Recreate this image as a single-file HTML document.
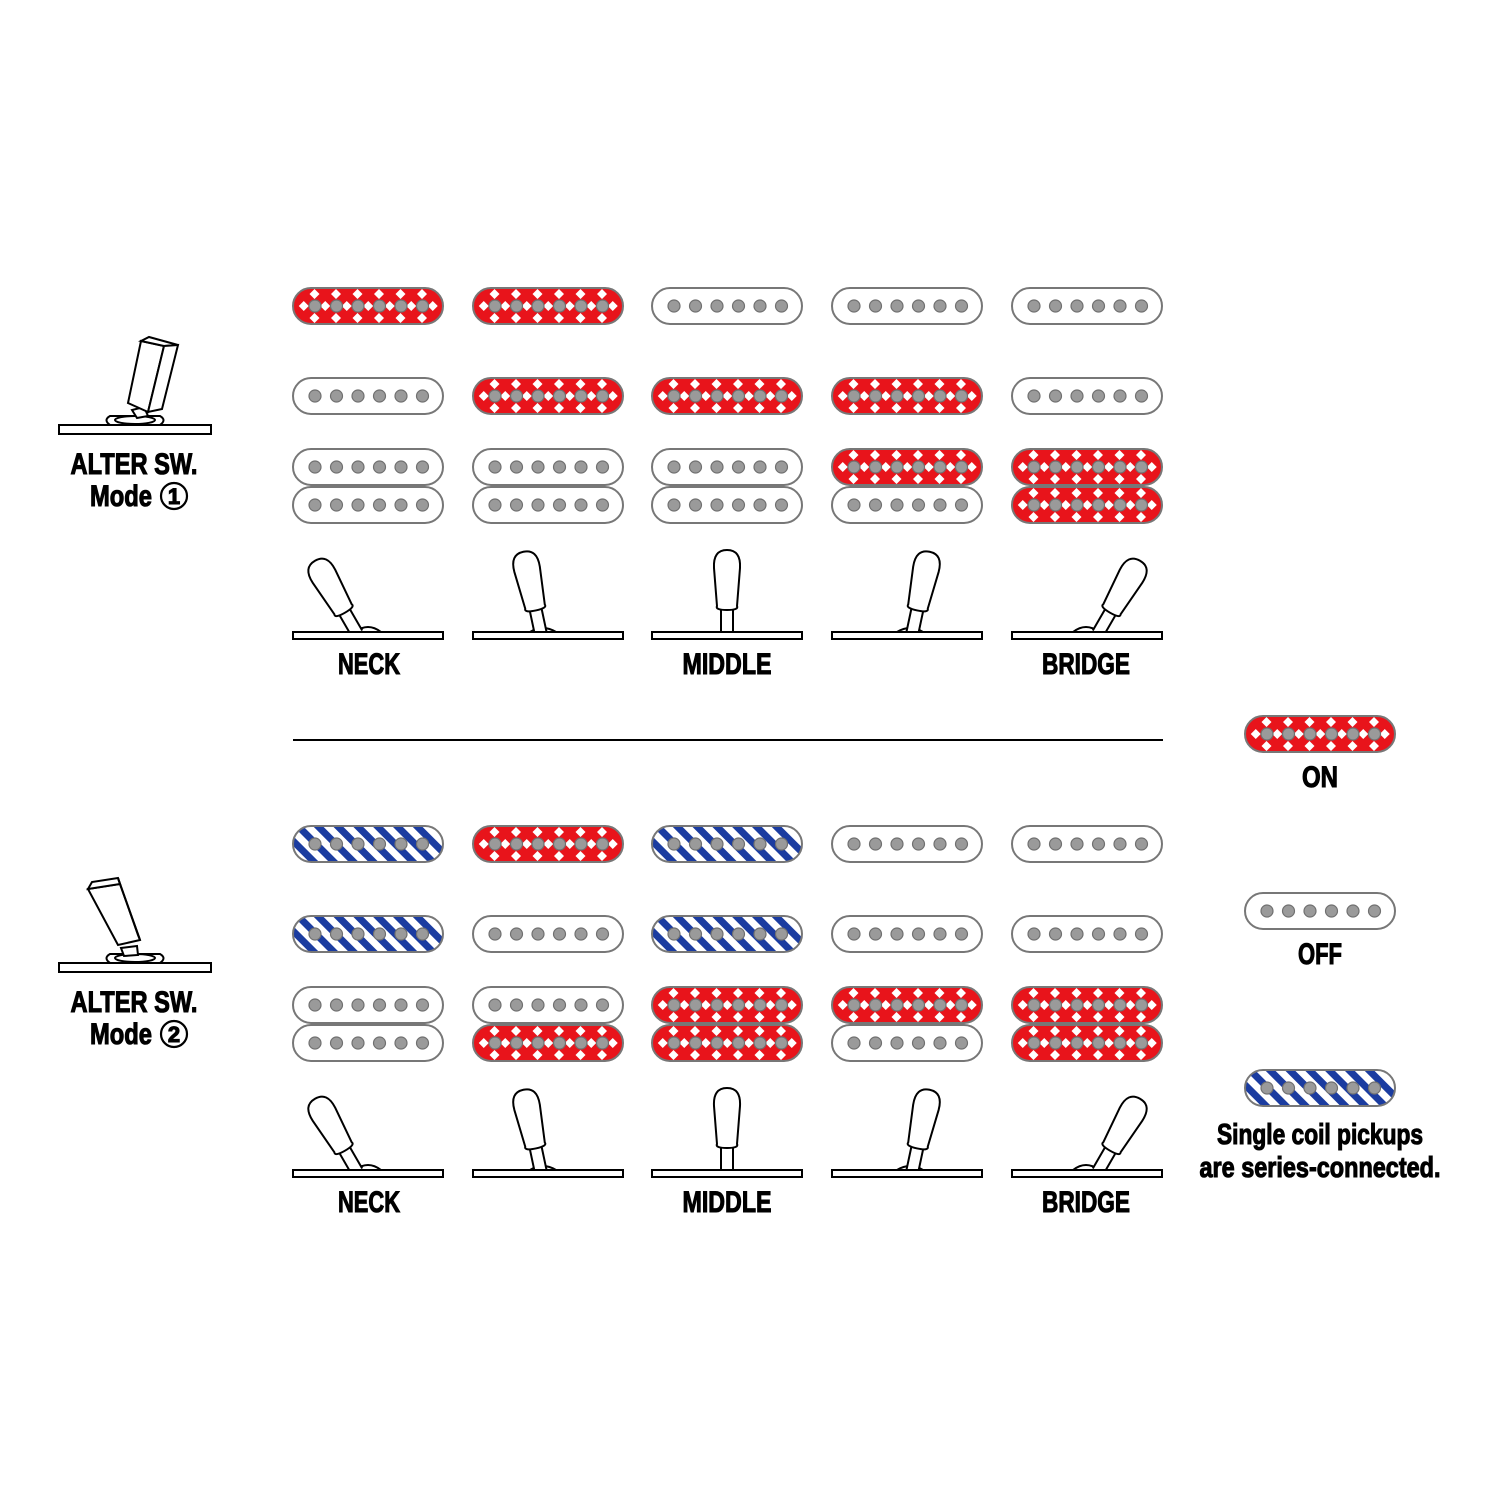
<!DOCTYPE html>
<html><head><meta charset="utf-8"><style>
html,body{margin:0;padding:0;background:#fff}
svg{display:block}
text{font-family:"Liberation Sans",sans-serif;font-weight:bold;fill:#000;text-anchor:middle;stroke:#000;stroke-width:1.1}
</style></head><body>
<svg width="1500" height="1500" viewBox="0 0 1500 1500" xmlns="http://www.w3.org/2000/svg">
<defs>
<pattern id="pr" patternUnits="userSpaceOnUse" width="21.5" height="24" x="0" y="0">
<rect width="21.5" height="24" fill="#e8141b"/>
<path d="M0,1 L5,6 L0,11 L-5,6Z M21.5,1 L26.5,6 L21.5,11 L16.5,6Z M10.75,13 L15.75,18 L10.75,23 L5.75,18Z M0,25 L5,30 L0,35 L-5,30Z M21.5,25 L26.5,30 L21.5,35 L16.5,30Z" fill="#fff"/>
</pattern>
<pattern id="pb" patternUnits="userSpaceOnUse" width="14" height="14" patternTransform="rotate(-45)">
<rect width="14" height="14" fill="#fff"/><rect width="7" height="14" fill="#1b3ca0"/>
</pattern>
<g id="poles" fill="#9a9a9a" stroke="#707070" stroke-width="1.2">
<circle cx="22" cy="18" r="6"/><circle cx="43.5" cy="18" r="6"/><circle cx="65" cy="18" r="6"/><circle cx="86.5" cy="18" r="6"/><circle cx="108" cy="18" r="6"/><circle cx="129.5" cy="18" r="6"/>
</g>
<g id="W"><rect x="0" y="0" width="150" height="36" rx="18" fill="#fff" stroke="#777" stroke-width="2"/><use href="#poles"/></g>
<g id="R"><rect x="0" y="0" width="150" height="36" rx="18" fill="url(#pr)" stroke="#777" stroke-width="2"/><use href="#poles"/></g>
<g id="B"><rect x="0" y="0" width="150" height="36" rx="18" fill="url(#pb)" stroke="#777" stroke-width="2"/><use href="#poles"/></g>
<g id="lever" fill="#fff" stroke="#000" stroke-width="2">
<path d="M-6,4 L-6,-22 L6,-22 L6,4"/>
<path d="M-10,-24 Q-12,-20 0,-20 Q12,-20 10,-24 L13,-62 Q14,-80 0,-80 Q-14,-80 -13,-62 Z"/>
</g>
<g id="base"><rect x="0" y="0" width="150" height="7" fill="#fff" stroke="#000" stroke-width="2"/></g>
</defs>

<g>
<use href="#R" x="293" y="288"/><use href="#W" x="293" y="378"/><use href="#W" x="293" y="449"/><use href="#W" x="293" y="487"/>
<use href="#R" x="473" y="288"/><use href="#R" x="473" y="378"/><use href="#W" x="473" y="449"/><use href="#W" x="473" y="487"/>
<use href="#W" x="652" y="288"/><use href="#R" x="652" y="378"/><use href="#W" x="652" y="449"/><use href="#W" x="652" y="487"/>
<use href="#W" x="832" y="288"/><use href="#R" x="832" y="378"/><use href="#R" x="832" y="449"/><use href="#W" x="832" y="487"/>
<use href="#W" x="1012" y="288"/><use href="#W" x="1012" y="378"/><use href="#R" x="1012" y="449"/><use href="#R" x="1012" y="487"/>
</g>
<g>
<use href="#B" x="293" y="826"/><use href="#B" x="293" y="916"/><use href="#W" x="293" y="987"/><use href="#W" x="293" y="1025"/>
<use href="#R" x="473" y="826"/><use href="#W" x="473" y="916"/><use href="#W" x="473" y="987"/><use href="#R" x="473" y="1025"/>
<use href="#B" x="652" y="826"/><use href="#B" x="652" y="916"/><use href="#R" x="652" y="987"/><use href="#R" x="652" y="1025"/>
<use href="#W" x="832" y="826"/><use href="#W" x="832" y="916"/><use href="#R" x="832" y="987"/><use href="#W" x="832" y="1025"/>
<use href="#W" x="1012" y="826"/><use href="#W" x="1012" y="916"/><use href="#R" x="1012" y="987"/><use href="#R" x="1012" y="1025"/>
</g>

<g>
<path d="M355,632 Q368,622 381,632" fill="#fff" stroke="#000" stroke-width="2"/>
<use href="#lever" transform="translate(355,630) rotate(-30)"/>
<path d="M530,632 Q543,624 556,632" fill="#fff" stroke="#000" stroke-width="2"/>
<use href="#lever" transform="translate(540,630) rotate(-12)"/>
<use href="#lever" transform="translate(727,630)"/>
<path d="M897,632 Q910,624 923,632" fill="#fff" stroke="#000" stroke-width="2"/>
<use href="#lever" transform="translate(913,630) rotate(12)"/>
<path d="M1073,632 Q1086,622 1099,632" fill="#fff" stroke="#000" stroke-width="2"/>
<use href="#lever" transform="translate(1100,630) rotate(30)"/>
<use href="#base" x="293" y="632"/><use href="#base" x="473" y="632"/><use href="#base" x="652" y="632"/><use href="#base" x="832" y="632"/><use href="#base" x="1012" y="632"/>
</g>
<g>
<path d="M355,1170 Q368,1160 381,1170" fill="#fff" stroke="#000" stroke-width="2"/>
<use href="#lever" transform="translate(355,1168) rotate(-30)"/>
<path d="M530,1170 Q543,1162 556,1170" fill="#fff" stroke="#000" stroke-width="2"/>
<use href="#lever" transform="translate(540,1168) rotate(-12)"/>
<use href="#lever" transform="translate(727,1168)"/>
<path d="M897,1170 Q910,1162 923,1170" fill="#fff" stroke="#000" stroke-width="2"/>
<use href="#lever" transform="translate(913,1168) rotate(12)"/>
<path d="M1073,1170 Q1086,1160 1099,1170" fill="#fff" stroke="#000" stroke-width="2"/>
<use href="#lever" transform="translate(1100,1168) rotate(30)"/>
<use href="#base" x="293" y="1170"/><use href="#base" x="473" y="1170"/><use href="#base" x="652" y="1170"/><use href="#base" x="832" y="1170"/><use href="#base" x="1012" y="1170"/>
</g>

<text x="369" y="674" font-size="30" textLength="62" lengthAdjust="spacingAndGlyphs">NECK</text>
<text x="727" y="674" font-size="30" textLength="89" lengthAdjust="spacingAndGlyphs">MIDDLE</text>
<text x="1086" y="674" font-size="30" textLength="88" lengthAdjust="spacingAndGlyphs">BRIDGE</text>
<text x="369" y="1212" font-size="30" textLength="62" lengthAdjust="spacingAndGlyphs">NECK</text>
<text x="727" y="1212" font-size="30" textLength="89" lengthAdjust="spacingAndGlyphs">MIDDLE</text>
<text x="1086" y="1212" font-size="30" textLength="88" lengthAdjust="spacingAndGlyphs">BRIDGE</text>

<line x1="293" y1="740" x2="1163" y2="740" stroke="#000" stroke-width="2"/>

<g fill="#fff" stroke="#000" stroke-width="2">
<rect x="59" y="425" width="152" height="9"/>
<path d="M110,416 Q103,420 110,425 L160,425 Q167,420 160,416 Z"/>
<ellipse cx="135" cy="420" rx="20" ry="4"/>
<path d="M132,410 L137,418 L148,416 L144,407 Z"/>
<path d="M128,403 L141,341 L164,346 L148,412 Z"/>
<path d="M141,341 L149,337 L178,345 L164,346 Z"/>
<path d="M164,346 L178,345 L162,409 L148,412 Z"/>
</g>
<text x="134" y="474" font-size="30" textLength="127" lengthAdjust="spacingAndGlyphs">ALTER SW.</text>
<text x="121" y="506" font-size="30" textLength="62" lengthAdjust="spacingAndGlyphs">Mode</text>
<circle cx="174" cy="496" r="13" fill="none" stroke="#000" stroke-width="2.2"/>
<text x="174" y="504" font-size="22">1</text>

<g fill="#fff" stroke="#000" stroke-width="2">
<rect x="59" y="963" width="152" height="9"/>
<path d="M110,954 Q103,958 110,963 L160,963 Q167,958 160,954 Z"/>
<ellipse cx="135" cy="958" rx="20" ry="4"/>
<path d="M121,948 L124,956 L138,955 L137,946 Z"/>
<path d="M88,889 L118,945 L140,940 L120,884 Z"/>
<path d="M88,889 L92,882 L118,878 L120,884 Z"/>
<path d="M120,884 L118,878 L138,935 L140,940 Z"/>
</g>
<text x="134" y="1012" font-size="30" textLength="127" lengthAdjust="spacingAndGlyphs">ALTER SW.</text>
<text x="121" y="1044" font-size="30" textLength="62" lengthAdjust="spacingAndGlyphs">Mode</text>
<circle cx="174" cy="1034" r="13" fill="none" stroke="#000" stroke-width="2.2"/>
<text x="174" y="1042" font-size="22">2</text>

<use href="#R" x="1245" y="716"/>
<text x="1320" y="787" font-size="30" textLength="36" lengthAdjust="spacingAndGlyphs">ON</text>
<use href="#W" x="1245" y="893"/>
<text x="1320" y="964" font-size="30" textLength="44" lengthAdjust="spacingAndGlyphs">OFF</text>
<use href="#B" x="1245" y="1070"/>
<text x="1320" y="1144" font-size="29" textLength="206" lengthAdjust="spacingAndGlyphs">Single coil pickups</text>
<text x="1320" y="1177" font-size="29" textLength="241" lengthAdjust="spacingAndGlyphs">are series-connected.</text>
</svg>
</body></html>
